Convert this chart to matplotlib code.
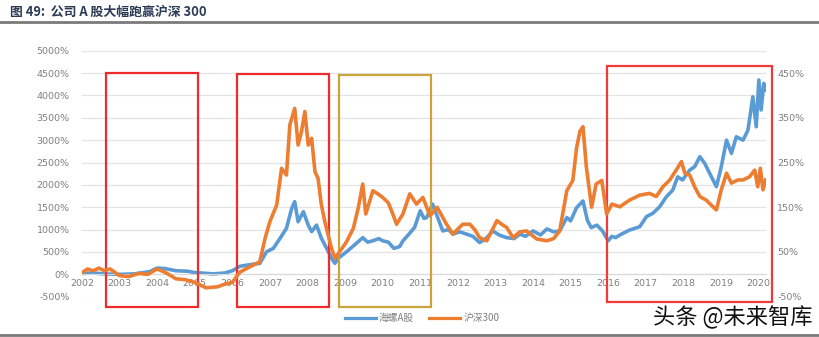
import matplotlib
matplotlib.use("Agg")
import matplotlib.pyplot as plt
from matplotlib.patches import Rectangle
from matplotlib.lines import Line2D

plt.rcParams['font.family'] = ['Noto Sans CJK SC', 'DejaVu Sans']

# ---------------- data ----------------
title = "图 49:  公司 A 股大幅跑赢沪深 300"
series_names = ["海螺A股", "沪深300"]
year_ticks = list(range(2002, 2021))
left_ticks = list(range(-500, 5001, 500))
right_ticks = [-50, 50, 150, 250, 350, 450]

# 海螺A股 cumulative return (%) – left axis
conch_years = [2002.0, 2002.3, 2002.6, 2003.0, 2003.4, 2003.8, 2004.0, 2004.2, 2004.5, 2004.8,
               2005.0, 2005.5, 2005.8, 2006.0, 2006.2, 2006.5, 2006.73, 2006.91, 2007.09, 2007.27,
               2007.44, 2007.58, 2007.66, 2007.75, 2007.89, 2008.02, 2008.11, 2008.24, 2008.37, 2008.51,
               2008.64, 2008.73, 2008.82, 2009.04, 2009.2, 2009.35, 2009.47, 2009.6, 2009.74, 2009.9,
               2010.0, 2010.15, 2010.3, 2010.45, 2010.54, 2010.7, 2010.85, 2011.0, 2011.1, 2011.17,
               2011.33, 2011.45, 2011.6, 2011.75, 2011.87, 2012.05, 2012.23, 2012.4, 2012.58, 2012.75,
               2012.93, 2013.1, 2013.3, 2013.5, 2013.65, 2013.8, 2014.0, 2014.2, 2014.37, 2014.55,
               2014.71, 2014.9, 2015.0, 2015.16, 2015.33, 2015.45, 2015.55, 2015.7, 2015.85, 2016.0,
               2016.1, 2016.2, 2016.31, 2016.57, 2016.84, 2017.02, 2017.19, 2017.37, 2017.55, 2017.72,
               2017.85, 2017.98, 2018.17, 2018.3, 2018.44, 2018.57, 2018.7, 2018.88, 2019.01, 2019.15,
               2019.28, 2019.41, 2019.59, 2019.72, 2019.85, 2019.94, 2020.01, 2020.07, 2020.14, 2020.19]
conch_pct = [20, 30, 10, 0, 10, 60, 140, 130, 80, 70,
             40, 10, 30, 80, 180, 220, 245, 505, 580, 805,
             1030, 1475, 1625, 1175, 1400, 1100, 955, 1100, 805, 580,
             360, 245, 360, 505, 620, 730, 820, 720, 750, 800,
             750, 720, 580, 620, 750, 900, 1050, 1420, 1250, 1270,
             1570, 1300, 970, 1000, 900, 950, 900, 850, 710, 800,
             970, 880, 820, 800, 900, 850, 970, 880, 1015, 950,
             970, 1270, 1195, 1490, 1640, 1200, 1045, 1100, 970, 750,
             850, 820, 880, 990, 1065, 1290, 1365, 1510, 1735, 1885,
             2180, 2110, 2330, 2405, 2630, 2480, 2260, 1960, 2405, 3000,
             2705, 3075, 3000, 3225, 3970, 3300, 4345, 3675, 4270, 4120]

# 沪深300 cumulative return (%) – right axis
hs_years = [2002.0, 2002.15, 2002.3, 2002.45, 2002.6, 2002.75, 2003.0, 2003.25, 2003.5, 2003.75,
            2004.0, 2004.2, 2004.5, 2004.75, 2005.0, 2005.3, 2005.6, 2005.8, 2006.0, 2006.2,
            2006.47, 2006.73, 2006.87, 2007.0, 2007.18, 2007.31, 2007.44, 2007.53, 2007.66, 2007.75,
            2007.84, 2007.93, 2008.02, 2008.11, 2008.2, 2008.28, 2008.37, 2008.46, 2008.55, 2008.64,
            2008.73, 2008.86, 2009.04, 2009.22, 2009.35, 2009.47, 2009.55, 2009.74, 2009.87, 2010.0,
            2010.15, 2010.27, 2010.37, 2010.54, 2010.72, 2010.9, 2011.07, 2011.26, 2011.45, 2011.7,
            2011.87, 2012.13, 2012.32, 2012.45, 2012.58, 2012.77, 2013.04, 2013.2, 2013.3, 2013.47,
            2013.65, 2013.83, 2014.1, 2014.37, 2014.55, 2014.71, 2014.9, 2015.06, 2015.16, 2015.25,
            2015.33, 2015.42, 2015.56, 2015.68, 2015.83, 2015.96, 2016.1, 2016.31, 2016.57, 2016.84,
            2017.1, 2017.28, 2017.46, 2017.64, 2017.81, 2017.95, 2018.04, 2018.17, 2018.3, 2018.44,
            2018.61, 2018.79, 2018.88, 2019.01, 2019.15, 2019.28, 2019.45, 2019.59, 2019.76, 2019.9,
            2019.98, 2020.05, 2020.12, 2020.19]
hs_pct = [4, 12, 8, 14, 8, 12, -3, -5, 2, 0,
          12, 5, -10, -12, -18, -30, -28, -22, -18, 5,
          17, 28, 80, 118, 155, 237, 222, 334, 371, 289,
          319, 364, 289, 304, 229, 215, 155, 118, 88, 58,
          36, 51, 73, 103, 148, 202, 135, 187, 180, 172,
          160, 135, 112, 135, 180, 157, 172, 131, 150, 112,
          90, 112, 112, 100, 82, 75, 120, 110, 105, 82,
          95, 97, 79, 75, 80, 97, 187, 210, 283, 320,
          330, 240, 150, 202, 210, 135, 157, 151, 166, 177,
          181, 174, 196, 211, 233, 252, 226, 222, 196, 174,
          166, 151, 144, 189, 226, 204, 211, 211, 218, 233,
          196, 237, 189, 211]

# highlight boxes: (start year, end year, bottom %, top %, colour) in left-axis units
boxes = [(2002.64, 2005.09, -730, 4500, '#f02b2b'),
         (2006.12, 2008.57, -740, 4480, '#f02b2b'),
         (2008.84, 2011.28, -720, 4460, '#c9a43a'),
         (2015.96, 2020.35, -620, 4650, '#f23a3a')]

BLUE = '#5b9bd5'
ORANGE = '#ed7d31'
GREY_TXT = '#7f7f7f'

# ---------------- figure ----------------
fig = plt.figure(figsize=(8.2, 3.37), dpi=100)
ax = fig.add_axes([82 / 820, 1 - 296.7 / 337, (766 - 82) / 820, (296.7 - 50.7) / 337])
ax2 = ax.twinx()

ax.set_xlim(2002.0, 2020.2)
ax.set_ylim(-500, 5000)
ax2.set_ylim(-50, 500)

ax.plot(conch_years, conch_pct, color=BLUE, lw=2.6, solid_joinstyle='round')
ax2.plot(hs_years, hs_pct, color=ORANGE, lw=2.6, solid_joinstyle='round')

ax.set_yticks(left_ticks)
ax.set_yticklabels([f"{v}%" for v in left_ticks])
ax2.set_yticks(right_ticks)
ax2.set_yticklabels([f"{v}%" for v in right_ticks])
ax.set_xticks(year_ticks)
ax.set_xticklabels([str(y) for y in year_ticks])

ax.grid(axis='y', color='#e4e4e4', lw=0.9)
ax.set_axisbelow(True)
for s in ['top', 'left', 'right']:
    ax.spines[s].set_visible(False)
    ax2.spines[s].set_visible(False)
ax2.spines['bottom'].set_visible(False)
ax.spines['bottom'].set_position(('data', 0))
ax.spines['bottom'].set_color('#d9d9d9')
ax.tick_params(axis='y', length=0, pad=9, labelsize=6.8, labelcolor=GREY_TXT)
ax.tick_params(axis='x', length=0, pad=3, labelsize=6.8, labelcolor=GREY_TXT)
ax2.tick_params(axis='y', length=0, pad=8, labelsize=6.8, labelcolor=GREY_TXT)
for lbl in ax.get_xticklabels() + ax.get_yticklabels() + ax2.get_yticklabels():
    lbl.set_family(['DejaVu Sans'])

for x0, x1, y0, y1, c in boxes:
    ax.add_patch(Rectangle((x0, y0), x1 - x0, y1 - y0, fill=False, edgecolor=c,
                           lw=1.6, clip_on=False, zorder=5))

# title and rules
fig.text(10 / 820, 1 - 12 / 337, title, fontsize=9.3, fontweight='bold',
         color='#2b3a55', ha='left', va='center')
fig.add_artist(Line2D([0, 1], [1 - 22 / 337, 1 - 22 / 337], color='#7a7a7a', lw=2))
fig.add_artist(Line2D([0, 1], [1 - 335 / 337, 1 - 335 / 337], color='#7a7a7a', lw=2))

# legend
handles = [Line2D([], [], color=BLUE, lw=2.3), Line2D([], [], color=ORANGE, lw=2.3)]
leg = fig.legend(handles, series_names, loc='center', bbox_to_anchor=(422 / 820, 1 - 318 / 337),
                 ncol=2, frameon=False, fontsize=7, handlelength=3.2, handletextpad=0.3,
                 columnspacing=1.6)
for t in leg.get_texts():
    t.set_color(GREY_TXT)

# watermark
fig.text(813 / 820, 1 - 317 / 337, "头条 @未来智库", fontsize=16, color='#111111',
         ha='right', va='center')

fig.savefig("out.png", dpi=100)
